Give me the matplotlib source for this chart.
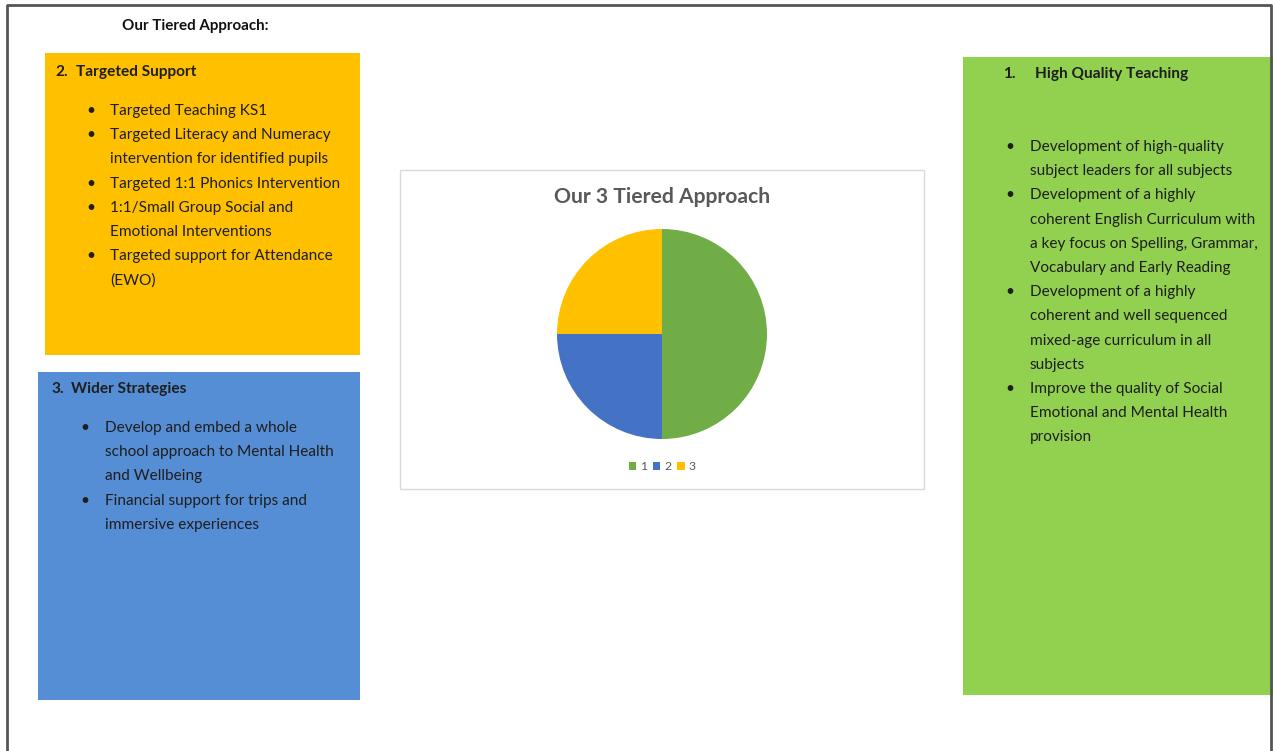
import matplotlib
matplotlib.use("Agg")
import matplotlib.pyplot as plt
from matplotlib.patches import Rectangle, Patch

W, H = 1273, 751
plt.rcParams["font.family"] = ["Lato", "DejaVu Sans"]

# ---- data ----
page_title = "Our Tiered Approach:"
chart_title = "Our 3 Tiered Approach"
tiers = ["1", "2", "3"]
shares = [50, 25, 25]
tier_colors = ["#70AD47", "#4472C4", "#FFC000"]

targeted_head = ("2.", "Targeted Support")
targeted_items = [
    ["Targeted Teaching KS1"],
    ["Targeted Literacy and Numeracy", "intervention for identified pupils"],
    ["Targeted 1:1 Phonics Intervention"],
    ["1:1/Small Group Social and", "Emotional Interventions"],
    ["Targeted support for Attendance", "(EWO)"],
]
wider_head = ("3.", "Wider Strategies")
wider_items = [
    ["Develop and embed a whole", "school approach to Mental Health", "and Wellbeing"],
    ["Financial support for trips and", "immersive experiences"],
]
teaching_head = ("1.", "High Quality Teaching")
teaching_items = [
    ["Development of high-quality", "subject leaders for all subjects"],
    ["Development of a highly", "coherent English Curriculum with",
     "a key focus on Spelling, Grammar,", "Vocabulary and Early Reading"],
    ["Development of a highly", "coherent and well sequenced",
     "mixed-age curriculum in all", "subjects"],
    ["Improve the quality of Social", "Emotional and Mental Health", "provision"],
]

fig = plt.figure(figsize=(W / 100, H / 100), dpi=100)
ax = fig.add_axes([0, 0, 1, 1])
ax.set_xlim(0, W); ax.set_ylim(H, 0); ax.axis("off")

# page frame (left, top, right edges)
ax.plot([7, 7, 1271, 1271], [H, 5, 5, H], color="#555555", lw=2)

ax.text(122, 26, page_title, fontsize=10.9, fontweight="bold", color="#111111",
        va="center")

TXT = "#1e1e1e"
FS = 11.1
LH = 24.2


def box(x, y, w, h, color, head, head_xy, items, bx, tx, y0):
    ax.add_patch(Rectangle((x, y), w, h, facecolor=color, edgecolor="none"))
    ax.text(head_xy[0], head_xy[1], head[0], fontsize=FS, fontweight="bold",
            color=TXT, va="center")
    ax.text(head_xy[2], head_xy[1], head[1], fontsize=FS, fontweight="bold",
            color=TXT, va="center")
    yy = y0
    for item in items:
        ax.text(bx, yy, "\u2022", fontsize=FS, color=TXT, va="center", ha="center")
        for line in item:
            ax.text(tx, yy, line, fontsize=FS, color=TXT, va="center")
            yy += LH


box(45, 53, 315, 302, "#FFC000", targeted_head, (55, 72, 76), targeted_items,
    91, 110, 111)
box(38, 372, 322, 328, "#558ED5", wider_head, (51, 389, 71), wider_items,
    85, 105, 428)
box(963, 57, 310, 638, "#92D050", teaching_head, (1003, 74, 1035), teaching_items,
    1010, 1030, 147)

# chart frame
ax.add_patch(Rectangle((400, 170), 524, 319, facecolor="white",
                       edgecolor="#D9D9D9", lw=1))
ax.text(662, 197, chart_title, fontsize=15.2, fontweight="bold",
        color="#595959", ha="center", va="center")

# pie
r = 105
cx, cy = 662, 334
pax = fig.add_axes([(cx - r) / W, (H - cy - r) / H, 2 * r / W, 2 * r / H])
pax.pie(shares, colors=tier_colors, startangle=90, counterclock=False,
        radius=1.0, wedgeprops=dict(linewidth=0))
pax.set_xlim(-1, 1); pax.set_ylim(-1, 1)

handles = [Patch(facecolor=c, edgecolor="none") for c in tier_colors]
fig.legend(handles, tiers, loc="center", bbox_to_anchor=(662 / W, 1 - 467 / H),
           ncol=3, frameon=False, fontsize=8.8, labelcolor="#595959",
           handlelength=0.6, handleheight=0.6, handletextpad=0.3,
           columnspacing=0.5)

fig.savefig("out.png", dpi=100, facecolor="white")
